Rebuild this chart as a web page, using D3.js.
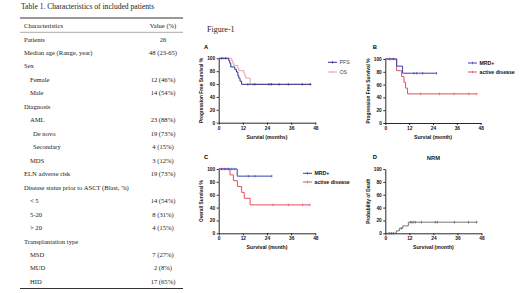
<!DOCTYPE html>
<html>
<head>
<meta charset="utf-8">
<script src="https://cdn.jsdelivr.net/npm/d3@7"></script>
<style>
  body { margin: 0; background: #fff; }
  svg { display: block; }
  .tbl { font-family: "Liberation Serif", "Times New Roman", serif; fill: #222; }
  .ax text { font-family: Arial, "Liberation Sans", sans-serif; font-weight: bold; font-size: 4.8px; fill: #111; }
  .ax path, .ax line { stroke: #111; stroke-width: 0.9; }
</style>
</head>
<body>
<div id="chart"></div>
<script>
// table rows: label, value, indent level
const tableLabels = ["Patients", "Median age (Range, year)", "Sex", "Female", "Male", "Diagnosis", "AML", "De novo",
  "Secondary", "MDS", "ELN adverse risk", "Disease status prior to ASCT (Blast, %)", "< 5", "5-20", "> 20",
  "Transplantation type", "MSD", "MUD", "HID"];
const tableValues = ["26", "48 (23-65)", "", "12 (46%)", "14 (54%)", "", "23 (88%)", "19 (73%)", "4 (15%)", "3 (12%)",
  "19 (73%)", "", "14 (54%)", "8 (31%)", "4 (15%)", "", "7 (27%)", "2 (8%)", "17 (65%)"];
const tableIndent = [0, 0, 0, 1, 1, 0, 1, 2, 2, 1, 0, 0, 1, 1, 1, 0, 1, 1, 1];

const xTicks = [0, 12, 24, 36, 48];
const yTicks = [0, 20, 40, 60, 80, 100];

// survival curves: [month, %] step points, end month, censor months
const pfsSteps = [[0, 100], [5, 96.2], [5.5, 92.3], [6, 86.5], [8, 82.7], [8.8, 78.8], [9.5, 73], [10, 69.2], [10.6, 64.4], [11.4, 59.6]];
const pfsEnd = 46;
const pfsCensor = [1.5, 3.5, 14.5, 18, 25, 26.3, 30, 34.6, 41.5, 45.5];
const osSteps = [[0, 100], [6.5, 96.2], [7, 92.3], [7.5, 89], [9.5, 84.6], [10, 80.8], [12.5, 76.9], [13, 73.1], [13.5, 69.2], [15.6, 59.6]];
const osEnd = 46;
const osCensor = [2.5, 17, 26];

const bMrdSteps = [[0, 100], [5.7, 88.9], [8.7, 77.8]];
const bMrdEnd = 25.8;
const bMrdCensor = [2.3, 4, 14.4, 15.8, 18.8, 25.8];
const bActSteps = [[0, 100], [5.7, 81.8], [8.2, 72.7], [9.4, 63.6], [10.2, 54.5], [11.2, 45.5]];
const bActEnd = 46;
const bActCensor = [17.8, 27.2, 34.6, 42, 46];

const cMrdSteps = [[0, 100], [9.2, 88.9]];
const cMrdEnd = 26.4;
const cMrdCensor = [1.5, 3.1, 4.8, 6.5, 8, 14.7, 18, 26.4];
const cActSteps = [[0, 100], [5.6, 90.9], [7.3, 81.8], [9.3, 72.7], [11.4, 63.6], [12.7, 54.5], [15.6, 44.2]];
const cActEnd = 45.4;
const cActCensor = [27, 34.6, 41.7, 45.4];

const nrmSteps = [[0, 0], [5.5, 3.8], [7, 7.7], [8.7, 11.5], [11.5, 17.3]];
const nrmEnd = 46;
const nrmCensor = [2, 3, 4, 8, 12.5, 13.2, 14, 15, 18, 25, 26, 34.5, 41.5, 45.5];

const BLUE = "#3b3fb0", NAVY = "#2c2f8c", PINK = "#e3a4a8", RED = "#e0505e", GREY = "#555";

const width = 520, height = 293;
const svg = d3.select("#chart").append("svg").attr("width", width).attr("height", height);

/* ---------- table ---------- */
svg.append("text").attr("class", "tbl").attr("x", 21).attr("y", 8.8)
  .attr("font-size", 7.6).text("Table 1. Characteristics of included patients");
svg.append("line").attr("x1", 20).attr("x2", 183).attr("y1", 18).attr("y2", 18).attr("stroke", "#333").attr("stroke-width", 1.1);
svg.append("line").attr("x1", 20).attr("x2", 183).attr("y1", 32.3).attr("y2", 32.3).attr("stroke", "#555").attr("stroke-width", 0.5);
svg.append("line").attr("x1", 20).attr("x2", 183).attr("y1", 288.5).attr("y2", 288.5).attr("stroke", "#333").attr("stroke-width", 1.1);
svg.append("text").attr("class", "tbl").attr("x", 24).attr("y", 28).attr("font-size", 6.6).text("Characteristics");
svg.append("text").attr("class", "tbl").attr("x", 163).attr("y", 28).attr("font-size", 6.6)
  .attr("text-anchor", "middle").text("Value (%)");

const rowY = d3.scaleLinear().domain([0, tableLabels.length - 1]).range([39.3, 281.7]);
const indentX = [24, 30, 33];
svg.selectAll(".rowlab").data(tableLabels).enter().append("text")
  .attr("class", "tbl rowlab").attr("font-size", 6.6)
  .attr("x", (d, i) => indentX[tableIndent[i]])
  .attr("y", (d, i) => rowY(i) + 2.2)
  .text(d => d);
svg.selectAll(".rowval").data(tableValues).enter().append("text")
  .attr("class", "tbl rowval").attr("font-size", 6.6).attr("text-anchor", "middle")
  .attr("x", 163)
  .attr("y", (d, i) => rowY(i) + 2.2)
  .text(d => d);

svg.append("text").attr("class", "tbl").attr("x", 207).attr("y", 32).attr("font-size", 8).text("Figure-1");

/* ---------- panels ---------- */
function valueAt(steps, t) {
  let v = steps[0][1];
  for (const s of steps) if (s[0] <= t) v = s[1];
  return v;
}

function drawPanel(p) {
  const x = d3.scaleLinear().domain([0, 48]).range([p.x0, p.x1]);
  const y = d3.scaleLinear().domain([0, 100]).range([p.y1, p.y0]);
  const g = svg.append("g");

  g.append("g").attr("class", "ax").attr("transform", `translate(0,${p.y1})`)
    .call(d3.axisBottom(x).tickValues(xTicks).tickSize(2).tickPadding(1.5).tickSizeOuter(0));
  g.append("g").attr("class", "ax").attr("transform", `translate(${p.x0},0)`)
    .call(d3.axisLeft(y).tickValues(yTicks).tickSize(2).tickPadding(1.5).tickSizeOuter(0));

  g.append("text").attr("x", p.lx).attr("y", p.ly)
    .attr("font-family", "Arial, sans-serif").attr("font-weight", "bold").attr("font-size", 5.8).text(p.id);
  g.append("text").attr("x", (p.x0 + p.x1) / 2).attr("y", p.y1 + 16)
    .attr("text-anchor", "middle").attr("font-family", "Arial, sans-serif").attr("font-weight", "bold")
    .attr("font-size", 5.2).attr("fill", "#111").text(p.xtitle);
  g.append("text").attr("transform", `translate(${p.x0 - 15.5},${(p.y0 + p.y1) / 2}) rotate(-90)`)
    .attr("text-anchor", "middle").attr("font-family", "Arial, sans-serif").attr("font-weight", "bold")
    .attr("font-size", 4.8).attr("fill", "#111").text(p.ytitle);
  if (p.title) {
    g.append("text").attr("x", (p.x0 + p.x1) / 2).attr("y", p.y0 - 9)
      .attr("text-anchor", "middle").attr("font-family", "Arial, sans-serif").attr("font-weight", "bold")
      .attr("font-size", 5.8).attr("fill", "#222").text(p.title);
  }

  const line = d3.line().x(d => x(d[0])).y(d => y(d[1])).curve(d3.curveStepAfter);
  p.series.forEach(s => {
    const pts = s.steps.concat([[s.end, s.steps[s.steps.length - 1][1]]]);
    g.append("path").attr("d", line(pts)).attr("fill", "none")
      .attr("stroke", s.color).attr("stroke-width", s.w || 1);
    g.selectAll(null).data(s.censor).enter().append("line")
      .attr("x1", d => x(d)).attr("x2", d => x(d))
      .attr("y1", d => y(valueAt(s.steps, d)) - 1.3)
      .attr("y2", d => y(valueAt(s.steps, d)) + 1.3)
      .attr("stroke", s.color).attr("stroke-width", 0.7);
  });

  p.legend.forEach((l, i) => {
    const ly = p.legY + i * p.legGap;
    g.append("line").attr("x1", p.legX).attr("x2", p.legX + 9).attr("y1", ly).attr("y2", ly)
      .attr("stroke", l.color).attr("stroke-width", 1);
    g.append("line").attr("x1", p.legX + 4.5).attr("x2", p.legX + 4.5).attr("y1", ly - 1.3).attr("y2", ly + 1.3)
      .attr("stroke", l.color).attr("stroke-width", 0.7);
    g.append("text").attr("x", p.legX + 11.5).attr("y", ly + 1.8)
      .attr("font-family", "Arial, sans-serif").attr("font-weight", l.bold ? "bold" : "normal")
      .attr("font-size", 5.2).attr("fill", l.bold ? "#111" : "#444").text(l.name);
  });
}

drawPanel({
  id: "A", x0: 218.7, x1: 315.3, y0: 58.3, y1: 122.7, lx: 204, ly: 49,
  xtitle: "Survial (months)", ytitle: "Progression Free Survival %",
  series: [
    { steps: osSteps, end: osEnd, censor: osCensor, color: PINK },
    { steps: pfsSteps, end: pfsEnd, censor: pfsCensor, color: NAVY }
  ],
  legX: 328, legY: 62.3, legGap: 9.7,
  legend: [{ name: "PFS", color: NAVY }, { name: "OS", color: PINK }]
});

drawPanel({
  id: "B", x0: 385.3, x1: 480.7, y0: 59, y1: 123, lx: 372.7, ly: 49,
  xtitle: "Survial (month)", ytitle: "Progression Free Survival %",
  series: [
    { steps: bActSteps, end: bActEnd, censor: bActCensor, color: RED },
    { steps: bMrdSteps, end: bMrdEnd, censor: bMrdCensor, color: BLUE }
  ],
  legX: 468, legY: 63, legGap: 9,
  legend: [{ name: "MRD+", color: BLUE, bold: true }, { name: "active disease", color: RED, bold: true }]
});

drawPanel({
  id: "C", x0: 218.7, x1: 315.3, y0: 169, y1: 233.3, lx: 204, ly: 159,
  xtitle: "Survival (month)", ytitle: "Overall Survival %",
  series: [
    { steps: cActSteps, end: cActEnd, censor: cActCensor, color: RED },
    { steps: cMrdSteps, end: cMrdEnd, censor: cMrdCensor, color: BLUE }
  ],
  legX: 303, legY: 173.3, legGap: 8.7,
  legend: [{ name: "MRD+", color: BLUE, bold: true }, { name: "active disease", color: RED, bold: true }]
});

drawPanel({
  id: "D", x0: 385.3, x1: 481.5, y0: 169, y1: 233.3, lx: 372.7, ly: 159, title: "NRM",
  xtitle: "Survival (month)", ytitle: "Probability of Death",
  series: [
    { steps: nrmSteps, end: nrmEnd, censor: nrmCensor, color: GREY, w: 0.8 }
  ],
  legX: 0, legY: 0, legGap: 0, legend: []
});
</script>
</body>
</html>
